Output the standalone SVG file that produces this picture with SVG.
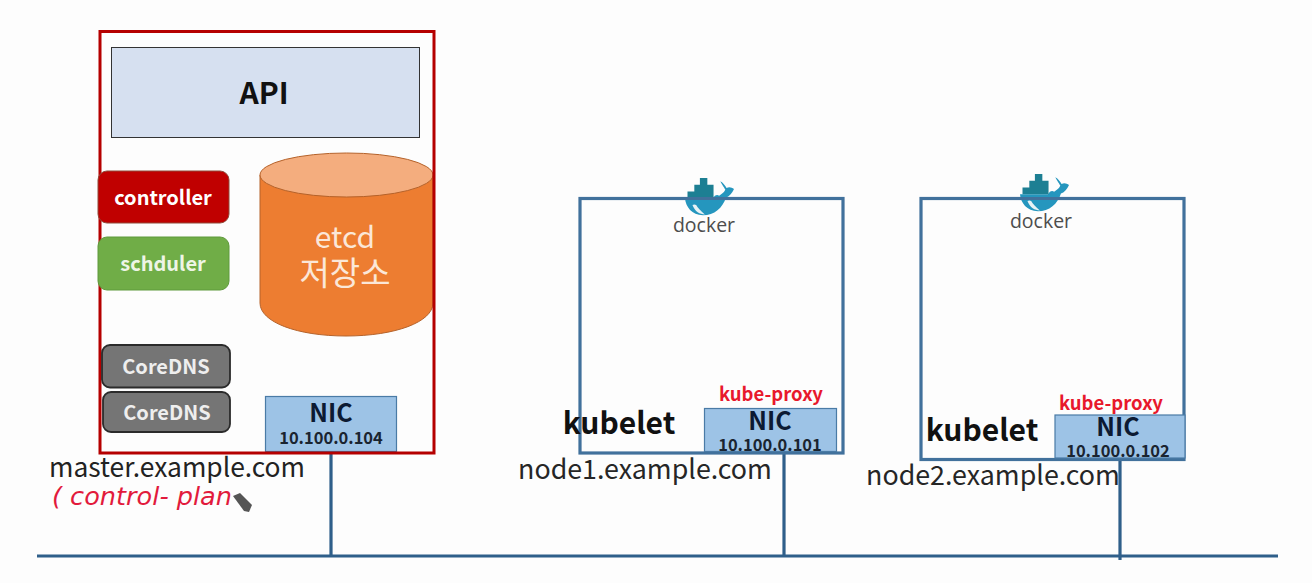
<svg xmlns="http://www.w3.org/2000/svg" width="1312" height="583" viewBox="0 0 1312 583">
<style>
text{font-family:"Noto Sans CJK KR","Noto Sans",sans-serif;text-anchor:middle}
.b{font-weight:700}
.w{fill:#fff;font-weight:700;font-size:20px}
.host{font-size:26.8px;fill:#262626}
.kl{font-size:30px;font-weight:700;fill:#111}
.kp{font-size:18.5px;font-weight:700;fill:#e8182c}
.nic{fill:#9dc3e6;stroke:#4a7ba6;stroke-width:1.2}
.nt{font-size:25px;font-weight:700;fill:#0c1a33}
.ip{font-size:16.5px;font-weight:700;fill:#1a2430}
.node{fill:none;stroke:#41719c;stroke-width:3.2}
.link{fill:none;stroke:#2f5f8a;stroke-width:3.2}
.dns{fill:#757575;stroke:#2b2b2b;stroke-width:1.8}
.dk{font-size:19.500px;fill:#4d4d4d;font-family:"Open Sans",sans-serif}
</style>
<defs>
<g id="whale">
<path d="M-29 -2H16C19 -6 23 -7 26 -5C30 -7 33 -8 36 -12C34 -15 29 -20 28 -22C31 -21 36 -17 38 -14C42 -16 46 -15 50 -13C47 -8 42 -4 37 -3C32 9 18 18 0 18C-18 18 -28 8 -29 -2Z" fill="#2596be" transform="scale(.62,.85)"/>
<path d="M-17 6C-13 14 -5 17 3 17C-4 13 -9 9 -11 6C-13 5 -15 5 -17 6Z" fill="#e8f2f5" transform="scale(.62,.85)"/>
<path d="M-25 -10H-14V-18H-5V-26H7V-18H17V-2H-25Z" fill="#1d7f93" transform="scale(.62,.85)"/>
</g>
</defs>
<rect width="1312" height="583" fill="#fdfdfd"/>
<g id="connectors">
<path class="link" d="M37 556H1278"/>
<path class="link" d="M331 453V556"/>
<path class="link" d="M784 454V556"/>
<path class="link" d="M1120 461V560"/>
</g>
<g id="etcd">
<path d="M260 175V303C260 322 297 336 346 336C395 336 433 322 433 303V175Z" fill="#ed7d31" stroke="#b5622a" stroke-width="1"/>
<ellipse cx="346.500" cy="175" rx="86.500" ry="22" fill="#f4ad7e" stroke="#b5622a" stroke-width="1"/>
<text x="345" y="248" font-size="30" fill="#fbe7d8">etcd</text>
<text x="345" y="285" font-size="33" fill="#fbe7d8">저장소</text>
</g>
<g id="nic-master">
<rect x="265.500" y="396.500" width="131" height="55" class="nic"/>
<text x="331" y="422" class="nt">NIC</text>
<text x="331" y="444" class="ip">10.100.0.104</text>
</g>
<g id="master">
<rect x="100" y="31.500" width="334" height="421.500" fill="none" stroke="#b50000" stroke-width="3"/>
<text x="177" y="477" class="host" style="fill:#222;font-size:26.400px">master.example.com</text>
</g>
<g id="api">
<rect x="111.500" y="47.500" width="308" height="90" fill="#d6e0f0" stroke="#333" stroke-width="1"/>
<text x="264" y="104" class="b" font-size="30" fill="#111">API</text>
</g>
<g id="controller">
<rect x="98" y="171" width="131" height="52" rx="9" fill="#c00000" stroke="#8f4a3a" stroke-width="1"/>
<text x="163" y="205" class="w">controller</text>
</g>
<g id="schduler">
<rect x="98" y="237" width="131" height="53" rx="9" fill="#70ad47" stroke="#5f9a3c" stroke-width="1"/>
<text x="163" y="271" class="w" style="fill:#eef5e6">schduler</text>
</g>
<g id="coredns1">
<rect x="102" y="345" width="128" height="42.500" rx="8" class="dns"/>
<text x="166" y="374" class="w" style="fill:#eee">CoreDNS</text>
</g>
<g id="coredns2">
<rect x="103" y="392" width="127" height="40" rx="8" class="dns"/>
<text x="167" y="420" class="w" style="fill:#eee">CoreDNS</text>
</g>
<g id="control-plan-note">
<text x="142" y="505" font-size="25" font-style="italic" fill="#e21a3c" textLength="180" lengthAdjust="spacingAndGlyphs" style="font-family:'DejaVu Sans',sans-serif">( control- plan</text>
<path d="M233 496L240 493L252 505L249 512L244 511Z" fill="#555"/>
</g>
<g id="node1">
<rect x="580" y="198.500" width="263" height="254.500" class="node"/>
<use href="#whale" x="703" y="200"/>
<path d="M580 198.500H843" class="node"/>
<text x="704" y="232" class="dk">docker</text>
<text x="619" y="434" class="kl">kubelet</text>
<text x="771" y="401" class="kp">kube-proxy</text>
<rect x="704.500" y="408.500" width="132" height="43" class="nic"/>
<text x="770" y="430" class="nt">NIC</text>
<text x="770" y="451" class="ip">10.100.0.101</text>
<text x="645" y="479" class="host">node1.example.com</text>
</g>
<g id="node2">
<rect x="921" y="198.500" width="263" height="261" class="node"/>
<use href="#whale" x="1038" y="196"/>
<path d="M921 198.500H1184" class="node"/>
<text x="1041" y="228" class="dk">docker</text>
<text x="982" y="441" class="kl">kubelet</text>
<text x="1111" y="410" class="kp">kube-proxy</text>
<rect x="1055" y="415" width="130" height="43" class="nic"/>
<text x="1118" y="436" class="nt">NIC</text>
<text x="1118" y="457" class="ip">10.100.0.102</text>
<text x="993" y="485" class="host">node2.example.com</text>
</g>
</svg>
